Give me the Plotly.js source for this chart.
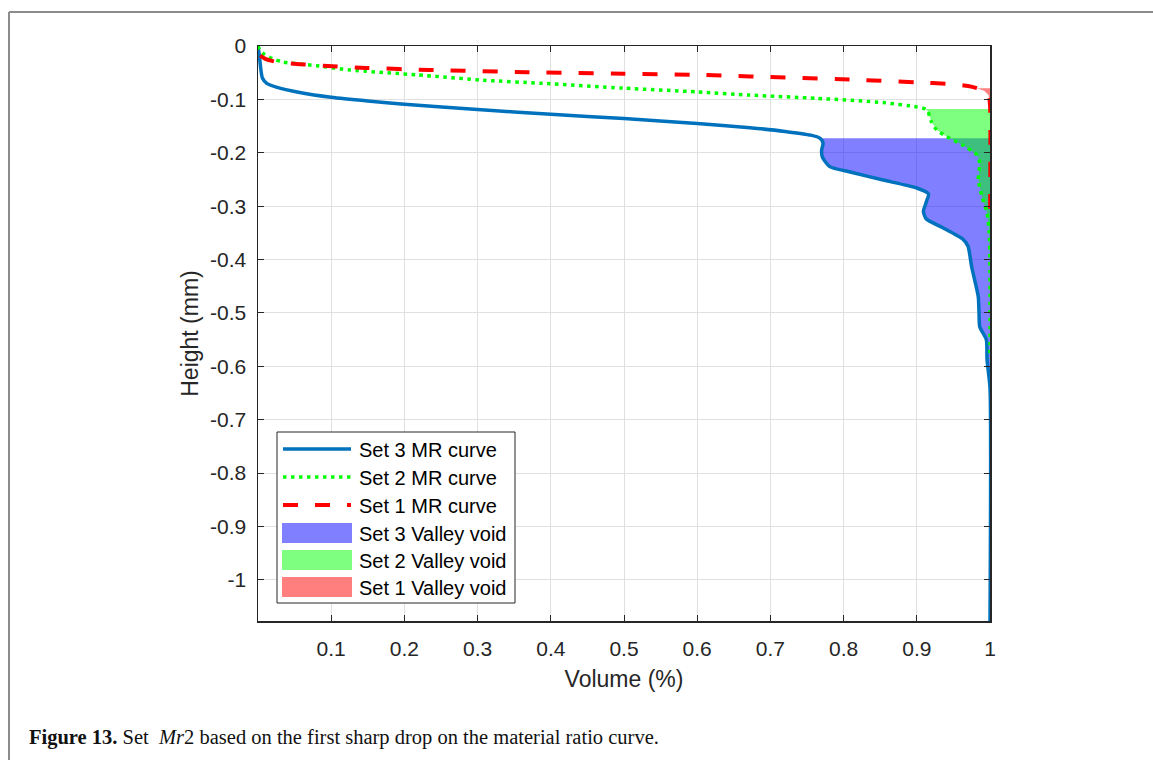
<!DOCTYPE html>
<html>
<head>
<meta charset="utf-8">
<script src="https://cdn.plot.ly/plotly-3.0.1.min.js"></script>
<style>
html,body{margin:0;padding:0;background:#fff;}
#chart{width:1153px;height:760px;}
</style>
</head>
<body>
<div id="chart"></div>
<script>
// ---------------- data ----------------
var xTicks = [0.1, 0.2, 0.3, 0.4, 0.5, 0.6, 0.7, 0.8, 0.9, 1];
var xTickText = ['0.1','0.2','0.3','0.4','0.5','0.6','0.7','0.8','0.9','1'];
var yTicks = [0, -0.1, -0.2, -0.3, -0.4, -0.5, -0.6, -0.7, -0.8, -0.9, -1];
var yTickText = ['0','-0.1','-0.2','-0.3','-0.4','-0.5','-0.6','-0.7','-0.8','-0.9','-1'];

// Set 3 MR curve (volume, height)
var set3X = [0, 0.002, 0.004, 0.006, 0.012, 0.025, 0.057, 0.1, 0.15, 0.2, 0.3, 0.4, 0.5, 0.6, 0.672, 0.72, 0.755, 0.768, 0.772, 0.770, 0.771, 0.781, 0.809, 0.854, 0.900, 0.916, 0.913, 0.909, 0.913, 0.935, 0.963, 0.970, 0.975, 0.984, 0.985, 0.986, 0.995, 0.996, 1.0, 1.0];
var set3Y = [0, -0.02, -0.045, -0.06, -0.07, -0.077, -0.087, -0.096, -0.103, -0.109, -0.119, -0.128, -0.136, -0.145, -0.153, -0.160, -0.167, -0.173, -0.182, -0.195, -0.208, -0.226, -0.236, -0.251, -0.266, -0.277, -0.292, -0.310, -0.324, -0.340, -0.362, -0.375, -0.414, -0.470, -0.500, -0.526, -0.550, -0.588, -0.640, -1.08];

// Set 2 MR curve
var set2X = [0, 0.003, 0.008, 0.02, 0.034, 0.08, 0.126, 0.217, 0.307, 0.389, 0.5, 0.6, 0.672, 0.763, 0.854, 0.900, 0.912, 0.915, 0.920, 0.927, 0.941, 0.963, 0.982, 0.986, 0.984, 0.989, 0.996, 0.999, 1.0, 1.0];
var set2Y = [0, -0.008, -0.015, -0.024, -0.030, -0.037, -0.045, -0.054, -0.064, -0.070, -0.079, -0.086, -0.092, -0.098, -0.106, -0.114, -0.118, -0.122, -0.142, -0.157, -0.170, -0.186, -0.204, -0.219, -0.251, -0.282, -0.313, -0.350, -0.420, -0.585];

// Set 1 MR curve
var set1X = [0.003, 0.01, 0.026, 0.057, 0.102, 0.148, 0.235, 0.368, 0.5, 0.6, 0.672, 0.809, 0.9, 0.945, 0.97, 0.982, 0.992, 0.998, 1.0, 1.0];
var set1Y = [-0.018, -0.024, -0.030, -0.034, -0.038, -0.041, -0.045, -0.049, -0.052, -0.054, -0.057, -0.063, -0.068, -0.071, -0.075, -0.079, -0.084, -0.092, -0.110, -0.330];

// Valley void levels (height where each void starts)
var set3VoidTop = -0.173;
var set2VoidTop = -0.118;
var set1VoidTop = -0.079;

var seriesNames = ['Set 3 MR curve', 'Set 2 MR curve', 'Set 1 MR curve',
                   'Set 3 Valley void', 'Set 2 Valley void', 'Set 1 Valley void'];

// ---------------- build void polygons from curves ----------------
function voidPolygon(xs, ys, top) {
  var px = [], py = [];
  for (var i = 0; i < xs.length; i++) {
    if (ys[i] <= top + 1e-9 && (px.length === 0 || xs[i] <= 1)) {
      px.push(xs[i]); py.push(ys[i]);
      if (xs[i] >= 1) break;
    }
  }
  px.push(1); py.push(top);
  px.push(px[0]); py.push(py[0]);
  return {x: px, y: py};
}
var v3 = voidPolygon(set3X, set3Y, set3VoidTop);
var v2 = voidPolygon(set2X, set2Y, set2VoidTop);
var v1 = voidPolygon(set1X, set1Y, set1VoidTop);

// ---------------- styles ----------------
var blue = '#0072BD', green = '#00FF00', red = '#FF0000';
var fill3 = 'rgba(0,0,255,0.5)', fill2 = 'rgba(0,255,0,0.5)', fill1 = 'rgba(255,0,0,0.5)';
var blueDash = 'solid', greenDash = '3.5px,4.5px', redDash = '15px,17px';
var txt = '#262626';

var traces = [
  {x: v3.x, y: v3.y, type: 'scatter', mode: 'lines', fill: 'toself', fillcolor: fill3,
   line: {width: 0, color: fill3}, name: seriesNames[3], showlegend: false, hoverinfo: 'skip'},
  {x: v2.x, y: v2.y, type: 'scatter', mode: 'lines', fill: 'toself', fillcolor: fill2,
   line: {width: 0, color: fill2}, name: seriesNames[4], showlegend: false, hoverinfo: 'skip'},
  {x: v1.x, y: v1.y, type: 'scatter', mode: 'lines', fill: 'toself', fillcolor: fill1,
   line: {width: 0, color: fill1}, name: seriesNames[5], showlegend: false, hoverinfo: 'skip'},
  {x: set3X, y: set3Y, type: 'scatter', mode: 'lines', name: seriesNames[0],
   line: {color: blue, width: 3.5, dash: blueDash, shape: 'spline', smoothing: 0.6}, showlegend: false},
  {x: set2X, y: set2Y, type: 'scatter', mode: 'lines', name: seriesNames[1],
   line: {color: green, width: 3.5, dash: greenDash, shape: 'spline', smoothing: 0.6}, showlegend: false},
  {x: set1X, y: set1Y, type: 'scatter', mode: 'lines', name: seriesNames[2],
   line: {color: red, width: 4, dash: redDash, shape: 'spline', smoothing: 0.6}, showlegend: false}
];

// ---------------- layout geometry ----------------
var L = 258, T = 46, W = 732, H = 575;
function PX(px) { return (px - L) / W; }
function PY(py) { return (T + H - py) / H; }

var shapes = [];
var annotations = [];

// outer page frame (top + left gray lines)
shapes.push({type: 'line', xref: 'paper', yref: 'paper', x0: PX(9), x1: PX(1160), y0: PY(12), y1: PY(12),
             line: {color: '#8c8c8c', width: 2}, layer: 'below'});
shapes.push({type: 'line', xref: 'paper', yref: 'paper', x0: PX(9), x1: PX(9), y0: PY(12), y1: PY(770),
             line: {color: '#8c8c8c', width: 2}, layer: 'below'});

// custom legend (MATLAB style)
var lgL = 277, lgT = 432, lgR = 515, lgB = 603;
shapes.push({type: 'rect', xref: 'paper', yref: 'paper', x0: PX(lgL), x1: PX(lgR), y0: PY(lgT), y1: PY(lgB),
             fillcolor: '#ffffff', line: {color: txt, width: 1}, layer: 'above'});
var rowY = [449, 477, 505, 533, 560, 587];
var symL = 283, symR = 351, textL = 357;
var lineStyles = [[blue, 3.5, blueDash], [green, 3.5, greenDash], [red, 4, redDash]];
for (var i = 0; i < 3; i++) {
  shapes.push({type: 'line', xref: 'paper', yref: 'paper', x0: PX(symL), x1: PX(symR), y0: PY(rowY[i]), y1: PY(rowY[i]),
               line: {color: lineStyles[i][0], width: lineStyles[i][1], dash: lineStyles[i][2]}, layer: 'above'});
}
var fills = [fill3, fill2, fill1];
for (var j = 0; j < 3; j++) {
  shapes.push({type: 'rect', xref: 'paper', yref: 'paper', x0: PX(symL - 1), x1: PX(symR + 1),
               y0: PY(rowY[3 + j] - 10), y1: PY(rowY[3 + j] + 10),
               fillcolor: fills[j], line: {width: 0}, layer: 'above'});
}
for (var k = 0; k < 6; k++) {
  annotations.push({xref: 'paper', yref: 'paper', x: PX(textL), y: PY(rowY[k] + 1), xanchor: 'left', yanchor: 'middle',
                    text: seriesNames[k], showarrow: false,
                    font: {family: 'Liberation Sans, Arial, sans-serif', size: 20, color: '#000000'}});
}

// caption
annotations.push({xref: 'paper', yref: 'paper', x: PX(27), y: PY(737), xanchor: 'left', yanchor: 'middle',
                  showarrow: false,
                  text: '<b>Figure 13.</b> Set  <i>Mr</i><span>2</span> based on the first sharp drop on the material ratio curve.',
                  font: {family: 'Liberation Serif, DejaVu Serif, serif', size: 20.5, color: '#111111'}});

var layout = {
  width: 1153, height: 760,
  margin: {l: L, r: 1153 - L - W, t: T, b: 760 - T - H, pad: 0},
  paper_bgcolor: '#ffffff', plot_bgcolor: '#ffffff',
  showlegend: false,
  xaxis: {
    range: [0, 1], tickvals: xTicks, ticktext: xTickText,
    ticks: 'inside', ticklen: 6, tickwidth: 1, tickcolor: txt,
    showline: true, linecolor: txt, linewidth: 1.5, mirror: 'ticks',
    showgrid: true, gridcolor: '#e0e0e0', gridwidth: 1, zeroline: false,
    tickfont: {family: 'Liberation Sans, Arial, sans-serif', size: 21, color: txt},
    ticklabelstandoff: 8,
    title: {text: 'Volume (%)', standoff: 12,
            font: {family: 'Liberation Sans, Arial, sans-serif', size: 23, color: txt}}
  },
  yaxis: {
    range: [-1.077, 0], tickvals: yTicks, ticktext: yTickText,
    ticks: 'inside', ticklen: 6, tickwidth: 1, tickcolor: txt,
    showline: true, linecolor: txt, linewidth: 1.5, mirror: 'ticks',
    showgrid: true, gridcolor: '#e0e0e0', gridwidth: 1, zeroline: false,
    tickfont: {family: 'Liberation Sans, Arial, sans-serif', size: 21, color: txt},
    ticklabelstandoff: 6,
    title: {text: 'Height (mm)', standoff: 5,
            font: {family: 'Liberation Sans, Arial, sans-serif', size: 23, color: txt}}
  },
  shapes: shapes,
  annotations: annotations
};

Plotly.newPlot('chart', traces, layout, {staticPlot: true, displayModeBar: false});
</script>
</body>
</html>
